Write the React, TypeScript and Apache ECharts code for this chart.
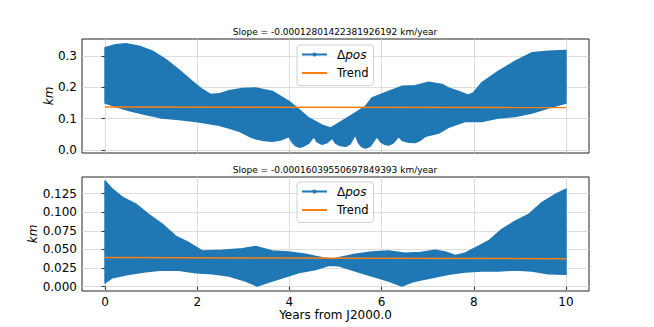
import React, { useEffect, useRef } from "react";
import * as echarts from "echarts";

const xTicks = [0, 2, 4, 6, 8, 10];
const yTicksTop = [0, 0.1, 0.2, 0.3];
const yTicksBottom = [0, 0.025, 0.05, 0.075, 0.1, 0.125];

const titleTop = "Slope = -0.00012801422381926192 km/year";
const titleBottom = "Slope = -0.00016039550697849393 km/year";
const xAxisName = "Years from J2000.0";
const yAxisName = "km";
const nameDelta = "Δpos";
const nameTrend = "Trend";

// Top panel: envelope of the dense Δpos scatter
const upperTopX = [0, 0.23, 0.45, 0.74, 1.03, 1.32, 1.6, 1.89, 2.11, 2.29, 2.47, 2.69, 2.98, 3.27, 3.63, 3.99, 4.21, 4.42, 4.71, 4.89, 5.07, 5.43, 5.65, 5.79, 6.15, 6.44, 6.73, 7.02, 7.31, 7.45, 7.67, 7.88, 7.99, 8.17, 8.53, 8.9, 9.26, 9.62, 10];
const upperTopY = [0.326, 0.336, 0.339, 0.331, 0.315, 0.288, 0.256, 0.219, 0.193, 0.177, 0.179, 0.189, 0.196, 0.198, 0.187, 0.155, 0.129, 0.102, 0.079, 0.07, 0.086, 0.118, 0.139, 0.166, 0.187, 0.203, 0.205, 0.216, 0.209, 0.198, 0.187, 0.175, 0.182, 0.214, 0.251, 0.283, 0.31, 0.315, 0.317];
const lowerTopX = [0, 0.23, 0.52, 0.88, 1.24, 1.6, 1.97, 2.18, 2.47, 2.69, 2.91, 3.12, 3.27, 3.45, 3.63, 3.8, 3.99, 4.06, 4.14, 4.21, 4.3, 4.42, 4.53, 4.6, 4.71, 4.82, 4.93, 5.0, 5.1, 5.22, 5.32, 5.43, 5.5, 5.58, 5.65, 5.75, 5.9, 5.98, 6.07, 6.15, 6.25, 6.37, 6.45, 6.59, 6.73, 6.85, 6.95, 7.24, 7.45, 7.81, 8.17, 8.53, 8.9, 9.26, 9.62, 10];
const lowerTopY = [0.15, 0.139, 0.126, 0.113, 0.102, 0.097, 0.091, 0.086, 0.079, 0.07, 0.06, 0.044, 0.036, 0.03, 0.028, 0.032, 0.043, 0.025, 0.013, 0.009, 0.012, 0.022, 0.043, 0.026, 0.018, 0.024, 0.038, 0.022, 0.014, 0.012, 0.02, 0.049, 0.022, 0.01, 0.006, 0.012, 0.043, 0.026, 0.018, 0.016, 0.022, 0.043, 0.03, 0.025, 0.024, 0.032, 0.044, 0.054, 0.072, 0.091, 0.091, 0.102, 0.107, 0.118, 0.134, 0.15];

// Bottom panel
const upperBotX = [0, 0.16, 0.38, 0.67, 0.95, 1.24, 1.53, 1.82, 2.0, 2.11, 2.54, 2.98, 3.27, 3.63, 3.99, 4.35, 4.71, 4.93, 5.14, 5.43, 5.79, 6.15, 6.51, 6.84, 7.16, 7.38, 7.6, 7.81, 8.03, 8.32, 8.61, 8.9, 9.19, 9.48, 9.77, 10];
const upperBotY = [0.142, 0.131, 0.12, 0.111, 0.097, 0.084, 0.068, 0.059, 0.052, 0.048, 0.049, 0.051, 0.054, 0.048, 0.0466, 0.0435, 0.039, 0.0368, 0.04, 0.0435, 0.0466, 0.048, 0.045, 0.046, 0.049, 0.0466, 0.042, 0.045, 0.052, 0.0614, 0.077, 0.088, 0.097, 0.113, 0.124, 0.131];
const lowerBotX = [0, 0.16, 0.52, 0.88, 1.24, 1.6, 1.97, 2.33, 2.69, 3.05, 3.3, 3.49, 3.85, 4.21, 4.57, 4.86, 5.07, 5.43, 5.79, 6.15, 6.44, 6.66, 6.84, 7.09, 7.45, 7.81, 8.17, 8.53, 8.9, 9.26, 9.62, 10];
const lowerBotY = [0.005, 0.012, 0.0167, 0.02, 0.0224, 0.022, 0.0188, 0.0175, 0.0144, 0.0077, 0.001, 0.005, 0.012, 0.019, 0.023, 0.0288, 0.028, 0.021, 0.0144, 0.0077, 0.001, 0.0063, 0.009, 0.012, 0.0167, 0.0198, 0.021, 0.021, 0.0224, 0.021, 0.0175, 0.0167];

// Linear trends (start/end)
const trendTopX = [0, 10];
const trendTopY = [0.137, 0.1357];
const trendBotX = [0, 10];
const trendBotY = [0.0392, 0.0376];

const BLUE = "#1f77b4";
const ORANGE = "#ff7f0e";
const FONT = "DejaVu Sans";

function bandSeries(idx: number, ux: number[], uy: number[], lx: number[], ly: number[]) {
  return {
    type: "custom",
    name: "band" + idx,
    xAxisIndex: idx,
    yAxisIndex: idx,
    silent: true,
    z: 2,
    data: [[ux[0], uy[0]]],
    renderItem: (_params: any, api: any) => {
      const pts: number[][] = [];
      for (let i = 0; i < ux.length; i++) pts.push(api.coord([ux[i], uy[i]]));
      for (let i = lx.length - 1; i >= 0; i--) pts.push(api.coord([lx[i], ly[i]]));
      return {
        type: "polygon",
        shape: { points: pts },
        style: { fill: BLUE, stroke: BLUE, lineWidth: 1.5, lineJoin: "round" },
      };
    },
  };
}

function pairs(xs: number[], ys: number[]) {
  return xs.map((x, i) => [x, ys[i]]);
}

export default function App() {
  const ref = useRef<HTMLDivElement>(null);
  useEffect(() => {
    if (!ref.current) return;
    const chart = echarts.init(ref.current, null, { renderer: "svg" });
    const grids = [
      { left: 82, right: 65, top: 39, height: 114 },
      { left: 82, right: 65, top: 177, height: 114 },
    ];
    const xAxisBase = (idx: number) => ({
      type: "value",
      gridIndex: idx,
      min: -0.5,
      max: 10.5,
      axisLine: { show: false },
      axisTick: {
        show: true,
        length: 3.5,
        customValues: xTicks,
        lineStyle: { color: idx === 0 ? "#bbbbbb" : "#000", width: 0.8 },
      },
      axisLabel: {
        show: idx === 1,
        customValues: xTicks,
        margin: 5,
        fontSize: 12,
        fontFamily: FONT,
        color: "#000",
        formatter: (v: number) => String(v),
      },
      splitLine: { show: true, lineStyle: { color: "#d4d4d4", width: 0.8 } },
      name: idx === 1 ? xAxisName : "",
      nameLocation: "middle",
      nameGap: 18,
      nameMoveOverlap: false,
      nameTextStyle: { fontSize: 12, fontFamily: FONT, color: "#000" },
    });
    const yAxisBase = (idx: number, min: number, max: number, ticks: number[], digits: number, gap: number) => ({
      type: "value",
      gridIndex: idx,
      min,
      max,
      axisLine: { show: false },
      axisTick: { show: true, length: 3.5, customValues: ticks, lineStyle: { color: "#000", width: 0.8 } },
      axisLabel: {
        customValues: ticks,
        margin: 5,
        fontSize: 12,
        fontFamily: FONT,
        color: "#000",
        formatter: (v: number) => v.toFixed(digits),
      },
      splitLine: { show: true, lineStyle: { color: "#d4d4d4", width: 0.8 } },
      name: yAxisName,
      nameLocation: "middle",
      nameGap: gap,
      nameMoveOverlap: false,
      nameTextStyle: { fontSize: 12, fontFamily: FONT, color: "#000", fontStyle: "italic" },
    });
    const legendBase = (top: number) => ({
      orient: "vertical",
      left: 297,
      top,
      padding: [3, 5, 6, 4],
      itemWidth: 25,
      itemHeight: 5,
      itemGap: 5.5,
      backgroundColor: "rgba(255,255,255,0.8)",
      borderColor: "#d0d0d0",
      borderWidth: 1,
      borderRadius: 3,
      selectedMode: false,
      data: [{ name: nameDelta }, { name: nameTrend, itemStyle: { opacity: 0 } }],
      formatter: (name: string) =>
        name === nameDelta ? "{g| }{n|Δ}{i|pos}" : "{g| }{t|" + name + "}",
      textStyle: {
        fontSize: 11,
        fontFamily: FONT,
        color: "#000",
        lineHeight: 13,
        rich: {
          g: { width: 5 },
          n: { fontSize: 12, fontFamily: FONT, color: "#000", lineHeight: 13 },
          i: { fontSize: 12, fontFamily: FONT, color: "#000", fontStyle: "italic", lineHeight: 13 },
          t: { fontSize: 11.5, fontFamily: FONT, color: "#000", lineHeight: 13 },
        },
      },
    });
    const trend = (idx: number, xs: number[], ys: number[]) => ({
      type: "line",
      name: nameTrend,
      xAxisIndex: idx,
      yAxisIndex: idx,
      data: pairs(xs, ys),
      symbol: "none",
      z: 4,
      lineStyle: { color: ORANGE, width: 1.5 },
      itemStyle: { color: ORANGE },
    });
    const deltaLegend = (idx: number) => ({
      type: "line",
      name: nameDelta,
      xAxisIndex: idx,
      yAxisIndex: idx,
      data: [],
      symbol: "circle",
      symbolSize: 4,
      lineStyle: { color: BLUE, width: 1.5 },
      itemStyle: { color: BLUE },
    });
    chart.setOption({
      animation: false,
      grid: grids.map((g) => ({ ...g, show: true, borderColor: "#222", borderWidth: 1, backgroundColor: "transparent" })),
      xAxis: [xAxisBase(0), xAxisBase(1)],
      yAxis: [
        yAxisBase(0, -0.0096, 0.354, yTicksTop, 1, 27),
        yAxisBase(1, -0.0058, 0.1474, yTicksBottom, 3, 43),
      ],
      legend: [legendBase(45), legendBase(182)],
      graphic: [
        { type: "text", x: 335, y: 32, style: { text: titleTop, fontSize: 9, fontFamily: FONT, fill: "#000", align: "center", verticalAlign: "middle" } },
        { type: "text", x: 335, y: 169.5, style: { text: titleBottom, fontSize: 9, fontFamily: FONT, fill: "#000", align: "center", verticalAlign: "middle" } },
      ],
      series: [
        bandSeries(0, upperTopX, upperTopY, lowerTopX, lowerTopY),
        bandSeries(1, upperBotX, upperBotY, lowerBotX, lowerBotY),
        deltaLegend(0),
        deltaLegend(1),
        trend(0, trendTopX, trendTopY),
        trend(1, trendBotX, trendBotY),
      ],
    });
    return () => chart.dispose();
  }, []);
  return <div ref={ref} style={{ position: "absolute", left: 0, top: 0, width: 654, height: 327 }} />;
}
